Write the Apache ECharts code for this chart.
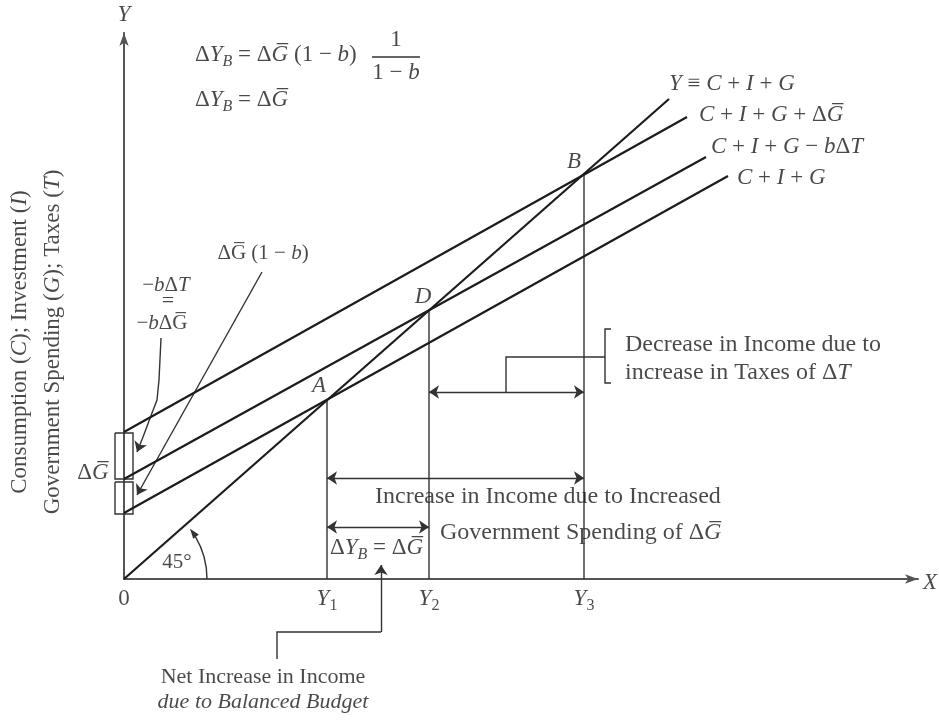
<!DOCTYPE html>
<html>
<head>
<meta charset="utf-8">
<script src="https://cdn.jsdelivr.net/npm/echarts/dist/echarts.min.js"></script>
<style>html,body{margin:0;background:#fff}#chart{width:939px;height:721px}</style>
</head>
<body>
<div id="chart"></div>
<script>
// units: one unit = one pixel measured from the origin of the diagram
var line45 = [[0, 0], [545, 480]];        // Y = C+I+G
var lineUpper = [[0, 147], [563, 462]];   // C+I+G+dG
var lineMiddle = [[0, 100], [582, 422]];  // C+I+G-b dT
var lineLower = [[0, 66], [604, 403]];    // C+I+G
var incomeLevels = [203, 305, 460];       // Y1, Y2, Y3
var pointHeights = [179, 269, 405];       // A, D, B
var tickLabels = ['0', '{i|Y}{d|1}', '{i|Y}{d|2}', '{i|Y}{d|3}'];
var tickValues = [0, 203, 305, 460];

var INK = '#1c1c1c';
var FONT = 'Liberation Serif';
var DG = 'Δ{i|G\u0305}';

function richFor(fs, lh) {
  var ss = Math.round(fs * 0.68);
  return {
    i: {fontFamily: FONT, fontStyle: 'italic', fontSize: fs, lineHeight: lh, color: INK},
    s: {fontFamily: FONT, fontStyle: 'italic', fontSize: ss, lineHeight: ss, verticalAlign: 'bottom', color: INK},
    d: {fontFamily: FONT, fontSize: ss, lineHeight: ss, verticalAlign: 'bottom', color: INK}
  };
}
function note(x, y, text, opt) {
  opt = opt || {};
  var fs = opt.size || 24;
  var lh = opt.lh || Math.round(fs * 1.3);
  return {
    value: [x, y],
    label: {
      show: true, position: 'inside', formatter: text,
      align: opt.align || 'left', verticalAlign: 'middle',
      fontFamily: FONT, fontSize: fs, lineHeight: lh,
      fontStyle: opt.italic ? 'italic' : 'normal',
      rotate: opt.rotate || 0, color: INK, rich: richFor(fs, lh)
    }
  };
}

var notes = [
  note(0, 564, '{i|Y}', {align: 'center', size: 23}),
  note(806, -4, '{i|X}', {align: 'center', size: 23}),
  note(71, 524, 'Δ{i|Y}{s|B} = ' + DG + ' (1 − {i|b})', {size: 23}),
  note(272, 539, '1', {align: 'center', size: 23}),
  note(272, 506, '1 − {i|b}', {align: 'center', size: 23}),
  note(71, 479, 'Δ{i|Y}{s|B} = ' + DG, {size: 23}),
  note(545, 495, '{i|Y} ≡ {i|C} + {i|I} + {i|G}', {size: 23}),
  note(575, 464, '{i|C} + {i|I} + {i|G} + ' + DG, {size: 23}),
  note(587, 432, '{i|C} + {i|I} + {i|G} − {i|b}Δ{i|T}', {size: 23}),
  note(613, 401, '{i|C} + {i|I} + {i|G}', {size: 23}),
  note(195, 193, '{i|A}', {align: 'center', size: 23}),
  note(299, 282, '{i|D}', {align: 'center', size: 23}),
  note(450, 417, '{i|B}', {align: 'center', size: 23}),
  note(42, 294, '−{i|b}Δ{i|T}', {align: 'center', size: 21}),
  note(44, 278, '=', {align: 'center', size: 22}),
  note(38, 256, '−{i|b}ΔG\u0305', {align: 'center', size: 21}),
  note(139, 326, 'ΔG\u0305 (1 − {i|b})', {align: 'center', size: 21}),
  note(-31, 106, DG, {align: 'center', size: 23}),
  note(53, 17, '45°', {align: 'center', size: 21}),
  note(501, 234, 'Decrease in Income due to'),
  note(501, 206, 'increase in Taxes of Δ{i|T}'),
  note(251, 82, 'Increase in Income due to Increased'),
  note(316, 46, 'Government Spending of ' + DG),
  note(206, 31, 'Δ{i|Y}{s|B} = ' + DG, {size: 23}),
  note(139, -98, 'Net Increase in Income', {align: 'center', size: 22}),
  note(139, -123, 'due to Balanced Budget', {align: 'center', size: 22, italic: true}),
  note(-88, 237, 'Consumption ({i|C}); Investment ({i|I})\nGovernment Spending ({i|G}); Taxes ({i|T})',
       {align: 'center', rotate: 90, lh: 33, size: 23})
];
tickValues.forEach(function (v, k) {
  notes.push(note(v, -20, tickLabels[k], {align: 'center', size: 23}));
});

var verticals = incomeLevels.map(function (x, k) {
  return {coords: [[x, 0], [x, pointHeights[k]]]};
});
var plainMarks = verticals.concat([
  {coords: [[382, 187], [382, 222], [481, 222]]},
  {coords: [[487, 250], [481, 250], [481, 196], [487, 196]]},
  {coords: [[-9, 146], [9, 146], [9, 100], [-9, 100], [-9, 146]]},
  {coords: [[-9, 97], [9, 97], [9, 65], [-9, 65], [-9, 97]]},
  {coords: [[248, 522], [296, 522]]},
  {coords: [[37, 241], [35, 199], [33, 179], [28, 166], [19, 142]]},
  {coords: [[153, -80], [153, -53], [257, -53]]}
]);
var endArrows = [
  {coords: [[19, 142], [13, 127]]},
  {coords: [[138, 307], [13, 84]]},
  {coords: [[257, -53], [257, 14]]}
];
var bothArrows = [
  {coords: [[305, 187], [460, 187]]},
  {coords: [[203, 101], [460, 101]]},
  {coords: [[203, 52], [305, 52]]}
];

function mainLine(data) {
  return {type: 'line', data: data, showSymbol: false, silent: true,
          lineStyle: {color: INK, width: 2.2}};
}
function markSeries(data, sym, poly) {
  return {type: 'lines', coordinateSystem: 'cartesian2d', polyline: poly, clip: false,
          silent: true, data: data, symbol: sym, symbolSize: 10,
          lineStyle: {color: '#333', width: 1.4, opacity: 1}};
}

var chart = echarts.init(document.getElementById('chart'));
chart.setOption({
  animation: false,
  backgroundColor: '#fff',
  grid: {left: 124, right: 21, top: 33, bottom: 142},
  xAxis: {type: 'value', min: 0, max: 794,
    axisLine: {symbol: ['none', 'arrow'], symbolSize: [7, 13], lineStyle: {color: '#555', width: 2}},
    axisTick: {show: false}, axisLabel: {show: false}, splitLine: {show: false}},
  yAxis: {type: 'value', min: 0, max: 546,
    axisLine: {show: true, symbol: ['none', 'arrow'], symbolSize: [7, 13], lineStyle: {color: '#555', width: 2}},
    axisTick: {show: false}, axisLabel: {show: false}, splitLine: {show: false}},
  series: [
    mainLine(line45), mainLine(lineUpper), mainLine(lineMiddle), mainLine(lineLower),
    markSeries(plainMarks, ['none', 'none'], true),
    markSeries(endArrows, ['none', 'arrow'], false),
    markSeries(bothArrows, ['arrow', 'arrow'], false),
    {type: 'custom', silent: true, clip: false, data: [[0, 0, 83]],
     renderItem: function (params, api) {
       var c = api.coord([api.value(0), api.value(1)]);
       var e = api.coord(line45[1]);
       var ang = Math.atan2(c[1] - e[1], e[0] - c[0]);
       var r = api.value(2);
       var a1 = ang - 0.07, len = 10, w = 3.5;
       var tip = [c[0] + r * Math.cos(a1), c[1] - r * Math.sin(a1)];
       var dir = [-Math.sin(a1), -Math.cos(a1)];
       var base = [tip[0] - dir[0] * len, tip[1] - dir[1] * len];
       var perp = [-dir[1], dir[0]];
       return {type: 'group', children: [
         {type: 'arc', shape: {cx: c[0], cy: c[1], r: r, startAngle: -(a1 - len / r), endAngle: 0, clockwise: true},
          style: {stroke: '#333', fill: null, lineWidth: 1.4}},
         {type: 'polygon', shape: {points: [tip,
            [base[0] + perp[0] * w, base[1] + perp[1] * w],
            [base[0] - perp[0] * w, base[1] - perp[1] * w]]},
          style: {fill: '#333'}}
       ]};
     }},
    {type: 'scatter', symbolSize: 0, clip: false, silent: true, data: notes}
  ]
});
</script>
</body>
</html>
